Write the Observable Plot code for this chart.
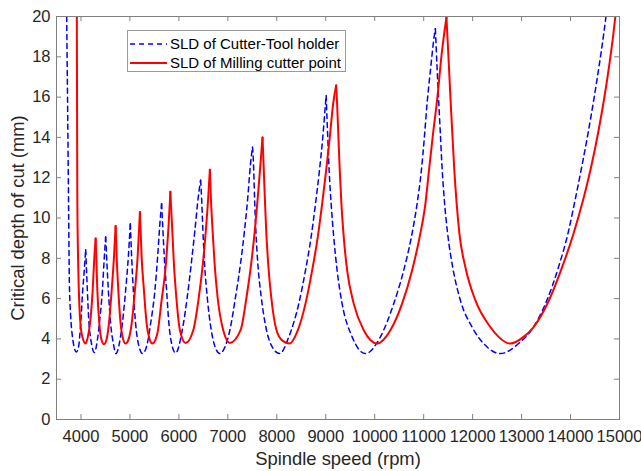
<!DOCTYPE html>
<html>
<head>
<meta charset="utf-8">
<script src="https://cdn.jsdelivr.net/npm/d3@7"></script>
<script src="https://cdn.jsdelivr.net/npm/@observablehq/plot@0.6"></script>
<style>
  body { margin: 0; background: #fff; }
  #wrap { position: relative; width: 641px; height: 471px; font-family: "Liberation Sans", Arial, Helvetica, sans-serif; }
  #wrap svg { display: block; }
  g[aria-label="x-axis label"], g[aria-label="y-axis label"] { font-size: 18.4px; }
  #legend { position: absolute; left: 127px; top: 30px; width: 217px; height: 40px; border: 1px solid #9a9a9a; background: #fff; font-size: 15px; color: #000; }
  #legend .item { position: absolute; left: 2px; height: 19px; display: flex; align-items: center; white-space: nowrap; }
  #legend .item svg { margin-right: 3px; }
</style>
</head>
<body>
<div id="wrap"></div>
<script>
// ---- data ----
const seriesNames = ["SLD of Cutter-Tool holder", "SLD of Milling cutter point"];

const holderRpm = [
  3708, 3729, 3749, 3763, 3790, 3824, 3860, 3905, 3950, 3994, 4035, 4062, 4096,
  4116, 4130, 4164, 4204, 4273, 4334, 4375, 4437, 4477, 4504,
  4524, 4559, 4606, 4661, 4714, 4783, 4845, 4912, 4967, 5008,
  5035, 5069, 5116, 5171, 5259, 5355, 5422, 5510, 5565, 5612, 5647,
  5667, 5702, 5749, 5796, 5851, 5933, 6069, 6171, 6253, 6327, 6396, 6443,
  6463, 6490, 6524, 6579, 6661, 6740, 6837, 6940, 7041, 7157, 7259, 7341, 7408, 7463, 7504,
  7524, 7545, 7572, 7612, 7682, 7790, 7906, 8060, 8245, 8449, 8586, 8701, 8790, 8871, 8939, 8994, 9008,
  9014, 9041, 9069, 9110, 9163, 9232, 9334, 9539, 9810, 10116, 10388, 10592, 10749, 10865, 10953, 11014, 11069, 11145, 11222, 11239,
  11273, 11306, 11341, 11375, 11422, 11490, 11592, 11749, 11988, 12224, 12565, 12939, 13245, 13517, 13755, 13946, 14092, 14228, 14355, 14472, 14580, 14678, 14724
];
const holderDepth = [
  20, 15.04, 10.08, 6.77, 5.12, 4.13, 3.6, 3.35, 3.6, 4.76, 6.41, 7.24, 8.43,
  7.24, 6.41, 4.76, 3.93, 3.32, 3.93, 4.76, 6.41, 8.06, 9.06,
  8.06, 6.41, 4.76, 3.77, 3.27, 3.77, 4.76, 6.41, 8.06, 9.72,
  8.06, 6.41, 4.76, 3.77, 3.27, 3.77, 4.76, 6.41, 8.06, 9.72, 10.71,
  9.72, 8.06, 6.41, 4.76, 3.77, 3.3, 4.43, 6.08, 7.74, 9.39, 11.04, 11.87,
  11.04, 9.39, 7.74, 6.08, 4.43, 3.6, 3.27, 3.6, 4.43, 6.08, 7.74, 9.39, 11.04, 12.7, 13.52,
  12.7, 11.04, 9.39, 7.74, 6.08, 4.43, 3.6, 3.27, 4.1, 5.75, 7.4, 9.06, 10.7, 12.36, 14.0, 15.67, 16.08,
  15.67, 14.0, 12.36, 10.7, 9.06, 7.4, 5.75, 4.1, 3.27, 4.1, 5.75, 7.4, 9.06, 10.7, 12.36, 14.0, 15.67, 17.49, 19.14, 19.39,
  17.49, 15.83, 14.18, 12.53, 10.88, 9.22, 7.57, 5.92, 4.59, 3.77, 3.27, 3.77, 4.59, 5.92, 7.57, 9.22, 10.88, 12.53, 14.18, 15.83, 17.49, 19.14, 20
];

const pointRpm = [
  3915, 3925, 3945, 3968, 3995, 4035, 4096, 4140, 4184, 4239, 4273, 4300,
  4334, 4375, 4420, 4470, 4525, 4571, 4627, 4674, 4708,
  4729, 4763, 4810, 4860, 4912, 4975, 5035, 5102, 5157, 5192, 5204,
  5239, 5286, 5341, 5400, 5457, 5559, 5647, 5729, 5817, 5825,
  5865, 5898, 5947, 6021, 6137, 6294, 6408, 6490, 6551, 6600, 6633,
  6653, 6688, 6729, 6790, 6906, 7041, 7259, 7382, 7477, 7551, 7612, 7667, 7708,
  7729, 7755, 7783, 7824, 7886, 7994, 8120, 8260, 8430, 8586, 8722, 8837, 8926, 9008, 9082, 9151, 9212,
  9232, 9259, 9286, 9320, 9367, 9437, 9571, 9776, 10049, 10320, 10559, 10763, 10918, 11035, 11110, 11192, 11273, 11375, 11465,
  11500, 11550, 11622, 11730, 11851, 12055, 12361, 12530, 12769, 13041, 13245, 13560, 13830, 14060, 14255, 14420, 14560, 14680, 14785, 14875, 14915
];
const pointDepth = [
  20, 11.0, 7.5, 5.6, 4.6, 4.05, 3.77, 4.1, 4.76, 6.41, 8.06, 8.98,
  6.41, 4.76, 3.95, 3.74, 4.0, 4.76, 6.41, 8.06, 9.6,
  8.06, 6.41, 4.76, 4.0, 3.77, 4.0, 4.76, 6.41, 8.06, 9.72, 10.3,
  8.06, 6.41, 4.76, 4.0, 3.77, 4.26, 5.92, 7.57, 10.87, 11.3,
  9.39, 7.74, 6.08, 4.43, 3.8, 4.43, 6.08, 7.74, 9.39, 11.04, 12.4,
  11.04, 9.39, 7.74, 6.08, 4.43, 3.8, 4.43, 6.08, 7.74, 9.39, 11.04, 12.7, 14.0,
  12.7, 11.04, 9.39, 7.74, 6.08, 4.43, 3.9, 3.77, 4.43, 5.75, 7.4, 9.06, 10.7, 12.36, 14.0, 15.67, 16.58,
  15.67, 14.0, 12.36, 10.7, 9.06, 7.4, 5.75, 4.43, 3.77, 4.43, 5.75, 7.4, 9.06, 10.7, 12.4, 14.2, 15.83, 18.3, 19.95,
  18.31, 15.83, 12.53, 9.22, 7.57, 5.92, 4.59, 4.1, 3.77, 4.1, 4.59, 5.92, 7.57, 9.22, 10.88, 12.53, 14.18, 15.83, 17.49, 19.14, 20
];

const xTicks = [4000, 5000, 6000, 7000, 8000, 9000, 10000, 11000, 12000, 13000, 14000, 15000];
const yTicks = [0, 2, 4, 6, 8, 10, 12, 14, 16, 18, 20];

// split a series into lobes between the cusps (local maxima)
function lobes(rpm, depth, name) {
  const cuts = [0];
  for (let i = 1; i < depth.length - 1; i++) {
    if (depth[i] > depth[i - 1] && depth[i] > depth[i + 1]) cuts.push(i);
  }
  cuts.push(depth.length - 1);
  const rows = [];
  for (let k = 0; k < cuts.length - 1; k++) {
    for (let i = cuts[k]; i <= cuts[k + 1]; i++) {
      rows.push({series: name, lobe: name + "#" + k, rpm: rpm[i], depth: depth[i]});
    }
  }
  return rows;
}
const holderRows = lobes(holderRpm, holderDepth, seriesNames[0]);
const pointRows = lobes(pointRpm, pointDepth, seriesNames[1]);

const W = 641, H = 471, mL = 56, mR = 22, mT = 16, mB = 52;
const innerW = W - mL - mR, innerH = H - mT - mB;
const axisGray = "#808080";

const chart = Plot.plot({
  width: W, height: H,
  marginLeft: mL, marginRight: mR, marginTop: mT, marginBottom: mB,
  style: {fontFamily: '"Liberation Sans", Arial, Helvetica, sans-serif', fontSize: "16.5px", color: "#262626", background: "#fff", overflow: "visible"},
  x: {domain: [3500, 15000]},
  y: {domain: [0, 20]},
  marks: [
    Plot.line(holderRows, {x: "rpm", y: "depth", z: "lobe", stroke: "#0000ff", strokeWidth: 1.5, strokeDasharray: "5,4", curve: "monotone-x", clip: true}),
    Plot.line(pointRows, {x: "rpm", y: "depth", z: "lobe", stroke: "#ff0000", strokeWidth: 2, curve: "monotone-x", clip: true}),
    Plot.frame({stroke: axisGray}),
    Plot.tickX(xTicks, {x: d => d, insetTop: innerH - 5, stroke: axisGray}),
    Plot.tickX(xTicks, {x: d => d, insetBottom: innerH - 5, stroke: axisGray}),
    Plot.tickY(yTicks, {y: d => d, insetRight: innerW - 5, stroke: axisGray}),
    Plot.tickY(yTicks, {y: d => d, insetLeft: innerW - 5, stroke: axisGray}),
    Plot.axisX(xTicks, {tickSize: 0, tickPadding: 11, tickFormat: "d", label: "Spindle speed (rpm)", labelAnchor: "center", labelOffset: 45, labelArrow: false}),
    Plot.axisY(yTicks, {tickSize: 0, tickPadding: 6, tickFormat: "d", label: "Critical depth of cut (mm)", labelAnchor: "center", labelOffset: 46, labelArrow: false})
  ]
});

const wrap = document.getElementById("wrap");
wrap.appendChild(chart);

// legend (inside the axes box, top-left)
const legend = document.createElement("div");
legend.id = "legend";
legend.innerHTML =
  '<div class="item" style="top:3px"><svg width="37" height="6"><line x1="0" x2="37" y1="3" y2="3" stroke="#0000ff" stroke-width="1.5" stroke-dasharray="5,4"/></svg><span>' + seriesNames[0] + '</span></div>' +
  '<div class="item" style="top:22px"><svg width="37" height="6"><line x1="0" x2="37" y1="3" y2="3" stroke="#ff0000" stroke-width="2"/></svg><span>' + seriesNames[1] + '</span></div>';
wrap.appendChild(legend);
</script>
</body>
</html>
